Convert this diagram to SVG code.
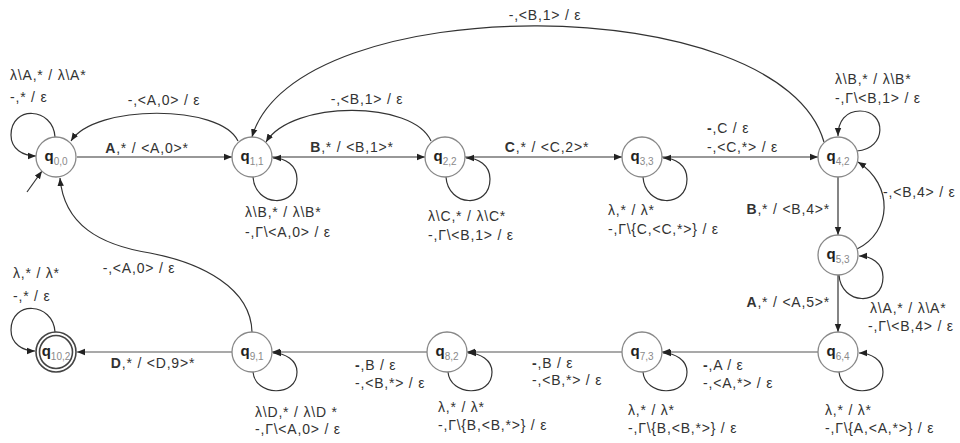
<svg xmlns="http://www.w3.org/2000/svg" width="960" height="443" viewBox="0 0 960 443">
<defs>
<marker id="ah" viewBox="0 0 10 10" refX="10" refY="5" markerWidth="8" markerHeight="8" orient="auto" markerUnits="userSpaceOnUse"><path d="M0,1 L10,5 L0,9 z" fill="#222"/></marker>
<style>
.e{fill:none;stroke:#333;stroke-width:1.2;marker-end:url(#ah)}
.el{fill:none;stroke:#555;stroke-width:1.2;marker-end:url(#ah)}
.n{fill:#fff;stroke:#888;stroke-width:1.3}
.f{fill:#fff;stroke:#444;stroke-width:1.6}
.q{font-family:"Liberation Sans",Arial,sans-serif;font-size:15px;font-weight:bold;fill:#222;text-anchor:middle}
.s{font-size:10px;font-weight:normal;fill:#8a8a8a}
.t{font-family:"Liberation Sans",Arial,sans-serif;font-size:14px;fill:#333;letter-spacing:0.8px}
.m{text-anchor:middle}
.r{text-anchor:end}
.b{font-weight:bold}
</style>
</defs>
<rect width="960" height="443" fill="#fff"/>
<g id="connectors">
<path class="e" d="M27,192 L42,171"/>
<path class="e" d="M77,157 L232,157"/>
<path class="e" d="M272,157 L425,157"/>
<path class="e" d="M465,157 L622,157"/>
<path class="e" d="M662,157 L818,157"/>
<path class="e" d="M838,177 L838,235"/>
<path class="e" d="M838,275 L838,332"/>
<path class="el" d="M818,352 L662,352"/>
<path class="el" d="M622,352 L467,352"/>
<path class="el" d="M427,352 L272,352"/>
<path class="el" d="M232,352 L77,352"/>
<path class="e" d="M238,141 C220,104 95,104 71,141"/>
<path class="e" d="M431,141 C413,100 292,100 266,142"/>
<path class="e" d="M824,142 C780,-12 295,-12 252,137"/>
<path class="e" d="M857,249 C892,232 894,185 858,162"/>
<path class="e" d="M252,332 C251,288 202,263 150,253 C100,245 64,225 60,178"/>
<path class="e" d="M55,137 C53,107 11,105 11,135 C11,149 23,156 36,156"/>
<path class="e" d="M55,332 C53,302 11,300 11,330 C11,344 23,351 35,351"/>
<path class="e" d="M253,177 C255,207 297,209 297,179 C297,165 285,158 273,158"/>
<path class="e" d="M446,177 C448,207 490,209 490,179 C490,165 478,158 466,158"/>
<path class="e" d="M643,177 C645,207 687,209 687,179 C687,165 675,158 663,158"/>
<path class="e" d="M857,151 C887,149 887,111 860,111 C846,111 838,121 838,136"/>
<path class="e" d="M839,275 C841,305 883,307 883,277 C883,263 871,256 859,256"/>
<path class="e" d="M839,372 C841,396 883,398 883,372 C883,360 871,353 859,353"/>
<path class="e" d="M643,372 C645,396 687,398 687,372 C687,360 675,353 663,353"/>
<path class="e" d="M448,372 C450,396 492,398 492,372 C492,360 480,353 468,353"/>
<path class="e" d="M253,372 C255,396 297,398 297,372 C297,360 285,353 273,353"/>
</g>
<g id="labels">
<text class="t" x="10" y="80">λ\A,* / λ\A*</text>
<text class="t" x="10" y="102">-,* / ε</text>
<text class="t m" x="147" y="153"><tspan class="b">A</tspan>,* / &lt;A,0&gt;*</text>
<text class="t m" x="164" y="105">-,&lt;A,0&gt; / ε</text>
<text class="t m" x="367" y="104">-,&lt;B,1&gt; / ε</text>
<text class="t m" x="352" y="152"><tspan class="b">B</tspan>,* / &lt;B,1&gt;*</text>
<text class="t m" x="547" y="152"><tspan class="b">C</tspan>,* / &lt;C,2&gt;*</text>
<text class="t m" x="545" y="20">-,&lt;B,1&gt; / ε</text>
<text class="t" x="245" y="217">λ\B,* / λ\B*</text>
<text class="t" x="245" y="237">-,Γ\&lt;A,0&gt; / ε</text>
<text class="t" x="428" y="221">λ\C,* / λ\C*</text>
<text class="t" x="428" y="240">-,Γ\&lt;B,1&gt; / ε</text>
<text class="t" x="608" y="215">λ,* / λ*</text>
<text class="t" x="608" y="234">-,Γ\{C,&lt;C,*&gt;} / ε</text>
<text class="t" x="707" y="133"><tspan class="b">-</tspan>,C / ε</text>
<text class="t" x="707" y="152">-,&lt;C,*&gt; / ε</text>
<text class="t" x="835" y="84">λ\B,* / λ\B*</text>
<text class="t" x="835" y="103">-,Γ\&lt;B,1&gt; / ε</text>
<text class="t" x="883" y="197">-,&lt;B,4&gt; / ε</text>
<text class="t r" x="830" y="214"><tspan class="b">B</tspan>,* / &lt;B,4&gt;*</text>
<text class="t" x="870" y="313">λ\A,* / λ\A*</text>
<text class="t" x="868" y="331">-,Γ\&lt;B,4&gt; / ε</text>
<text class="t r" x="830" y="307"><tspan class="b">A</tspan>,* / &lt;A,5&gt;*</text>
<text class="t" x="703" y="370"><tspan class="b">-</tspan>,A / ε</text>
<text class="t" x="703" y="388">-,&lt;A,*&gt; / ε</text>
<text class="t" x="825" y="415">λ,* / λ*</text>
<text class="t" x="825" y="433">-,Γ\{A,&lt;A,*&gt;} / ε</text>
<text class="t" x="628" y="415">λ,* / λ*</text>
<text class="t" x="628" y="433">-,Γ\{B,&lt;B,*&gt;} / ε</text>
<text class="t" x="532" y="368"><tspan class="b">-</tspan>,B / ε</text>
<text class="t" x="532" y="385">-,&lt;B,*&gt; / ε</text>
<text class="t" x="438" y="412">λ,* / λ*</text>
<text class="t" x="438" y="430">-,Γ\{B,&lt;B,*&gt;} / ε</text>
<text class="t" x="355" y="370"><tspan class="b">-</tspan>,B / ε</text>
<text class="t" x="355" y="388">-,&lt;B,*&gt; / ε</text>
<text class="t" x="255" y="417">λ\D,* / λ\D *</text>
<text class="t" x="255" y="434">-,Γ\&lt;A,0&gt; / ε</text>
<text class="t m" x="153" y="368"><tspan class="b">D</tspan>,* / &lt;D,9&gt;*</text>
<text class="t m" x="139" y="273">-,&lt;A,0&gt; / ε</text>
<text class="t" x="13" y="278">λ,* / λ*</text>
<text class="t" x="13" y="301">-,* / ε</text>
</g>
<g id="q0_0"><circle class="n" cx="56" cy="157" r="20"/><text class="q" x="56" y="161">q<tspan class="s" dy="4">0,0</tspan></text></g>
<g id="q1_1"><circle class="n" cx="252" cy="157" r="20"/><text class="q" x="252" y="161">q<tspan class="s" dy="4">1,1</tspan></text></g>
<g id="q2_2"><circle class="n" cx="445" cy="157" r="20"/><text class="q" x="445" y="161">q<tspan class="s" dy="4">2,2</tspan></text></g>
<g id="q3_3"><circle class="n" cx="642" cy="157" r="20"/><text class="q" x="642" y="161">q<tspan class="s" dy="4">3,3</tspan></text></g>
<g id="q4_2"><circle class="n" cx="838" cy="157" r="20"/><text class="q" x="838" y="161">q<tspan class="s" dy="4">4,2</tspan></text></g>
<g id="q5_3"><circle class="n" cx="838" cy="255" r="20"/><text class="q" x="838" y="259">q<tspan class="s" dy="4">5,3</tspan></text></g>
<g id="q6_4"><circle class="n" cx="838" cy="352" r="20"/><text class="q" x="838" y="356">q<tspan class="s" dy="4">6,4</tspan></text></g>
<g id="q7_3"><circle class="n" cx="642" cy="352" r="20"/><text class="q" x="642" y="356">q<tspan class="s" dy="4">7,3</tspan></text></g>
<g id="q8_2"><circle class="n" cx="447" cy="352" r="20"/><text class="q" x="447" y="356">q<tspan class="s" dy="4">8,2</tspan></text></g>
<g id="q9_1"><circle class="n" cx="252" cy="352" r="20"/><text class="q" x="252" y="356">q<tspan class="s" dy="4">9,1</tspan></text></g>
<g id="q10_2"><circle class="f" cx="56" cy="352" r="20"/><circle class="f" cx="56" cy="352" r="16.5"/><text class="q" x="56" y="356">q<tspan class="s" dy="4">10,2</tspan></text></g>
</svg>
